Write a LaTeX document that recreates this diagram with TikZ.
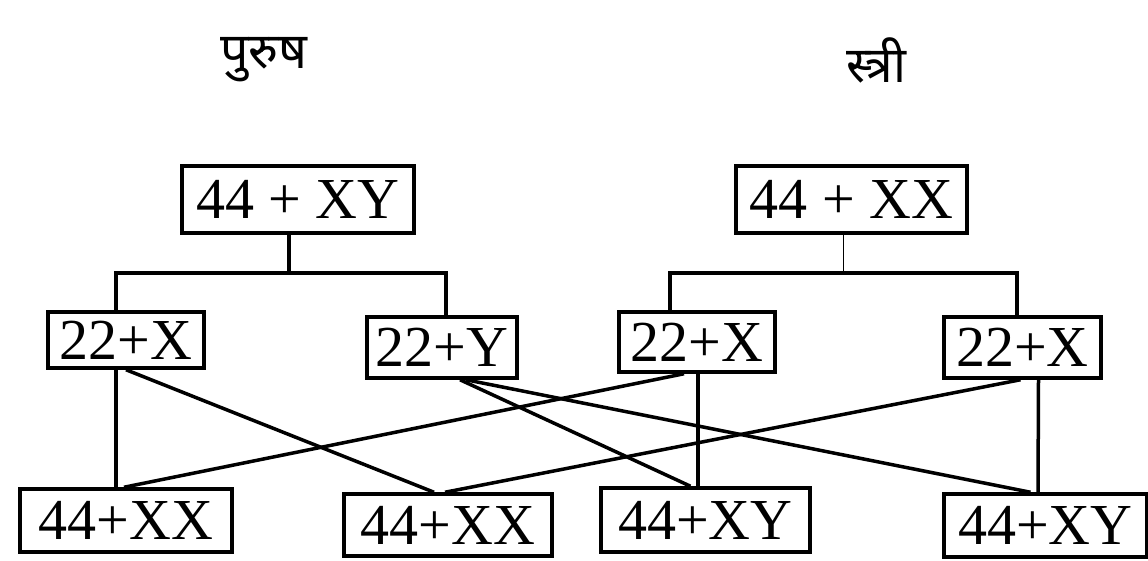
\documentclass[tikz,border=0pt]{standalone}
\usepackage{fontspec}
\setmainfont{Liberation Serif}
\newfontfamily\devfont[Script=Devanagari]{Noto Sans}
\begin{document}
\begin{tikzpicture}[x=1pt,y=-1pt,
  box/.style={draw, line width=3.5pt, inner sep=0pt, font=\fontsize{58}{60}\selectfont},
  conn/.style={line width=3.5pt},
  thinconn/.style={line width=1pt},
  lbl/.style={font=\devfont\fontsize{50}{54}\selectfont, inner sep=0pt}]
\useasboundingbox (0,0) rectangle (1148,561);
% labels
\node[lbl] (pm) at (264,60) {पुरुष};
\node[lbl] (pf) at (876,60) {स्त्री};
% top
\node[box, minimum width=232pt, minimum height=67pt] (t1) at (298,199.5) {44 + XY};
\node[box, minimum width=231pt, minimum height=67pt] (t2) at (851.5,199.5) {44 + XX};
% middle
\node[box, minimum width=156pt, minimum height=56pt] (m1) at (126,340) {22+X};
\node[box, minimum width=150pt, minimum height=61pt] (m2) at (442,347.5) {22+Y};
\node[box, minimum width=156pt, minimum height=60pt] (m3) at (697,342) {22+X};
\node[box, minimum width=157pt, minimum height=61pt] (m4) at (1022.5,347.5) {22+X};
% bottom
\node[box, minimum width=212pt, minimum height=63pt] (b1) at (126,520.5) {44+XX};
\node[box, minimum width=208pt, minimum height=62pt] (b2) at (448,525) {44+XX};
\node[box, minimum width=209pt, minimum height=64pt] (b3) at (705.5,520) {44+XY};
\node[box, minimum width=203pt, minimum height=63pt] (b4) at (1045.5,525.5) {44+XY};
% brackets
\coordinate (j1) at (289,273);
\coordinate (j2) at (843,273);
\draw[conn] ([xshift=-9pt]t1.south) -- (j1);
\draw[conn] ([xshift=-10pt]m1.north) |- (j1) -| ([xshift=4pt]m2.north);
\draw[thinconn] ([xshift=-8.5pt]t2.south) -- (j2);
\draw[conn] ([xshift=-27pt]m3.north) |- (j2) -| ([xshift=-5.5pt]m4.north);
% verticals
\draw[conn] ([xshift=-10pt]m1.south) -- ([xshift=-10pt]b1.north);
\draw[conn] ([xshift=1pt]m3.south) -- ([xshift=-7.5pt]b3.north);
\draw[conn] ([xshift=16pt]m4.south) -- ([xshift=-7.5pt]b4.north);
% diagonals
\draw[conn] ([xshift=0pt]m1.south) -- ([xshift=-14pt]b2.north);
\draw[conn] ([xshift=-2pt]b1.north) -- ([xshift=-13pt]m3.south);
\draw[conn] ([xshift=-2pt]m4.south) -- ([xshift=-3pt]b2.north);
\draw[conn] ([xshift=18pt]m2.south) -- ([xshift=-15pt]b3.north);
\draw[conn] ([xshift=24pt]m2.south) -- ([xshift=-15pt]b4.north);
\end{tikzpicture}
\end{document}
